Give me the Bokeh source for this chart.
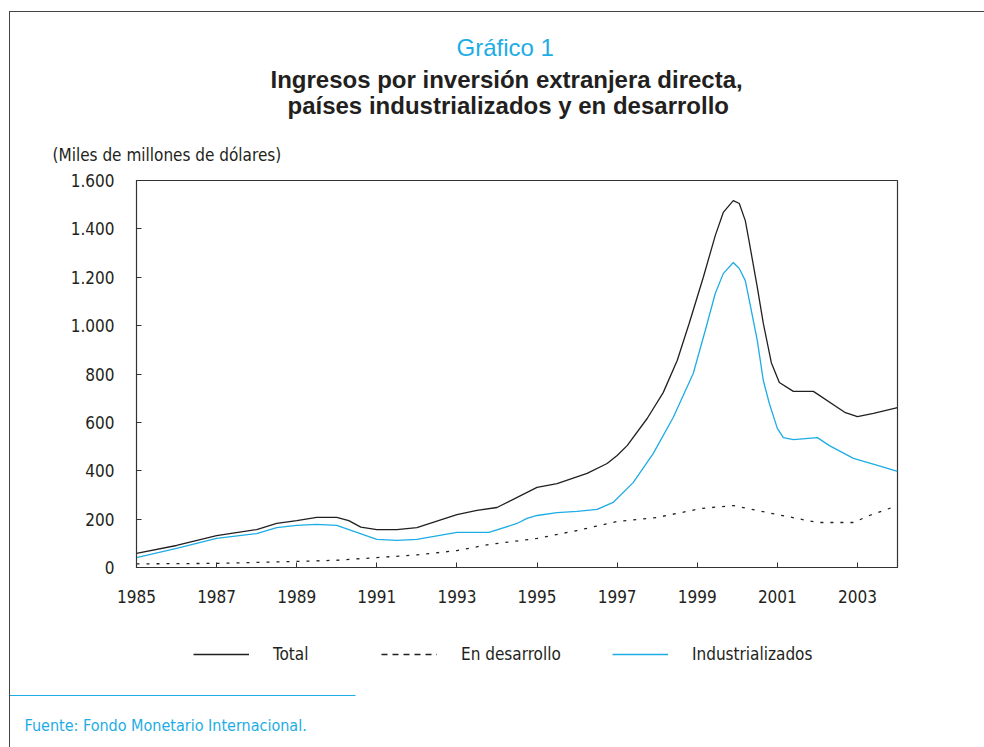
from bokeh.plotting import figure
from bokeh.layouts import column
from bokeh.models import (Range1d, FixedTicker, Title, Legend, LegendItem, Label,
                          BoxAnnotation, InlineStyleSheet)
from bokeh.embed import file_html
from bokeh.resources import INLINE

# ---- data (miles de millones de dólares) ----
total_years = [1985.0, 1986.0, 1987.0, 1988.0, 1988.5, 1989.0, 1989.5, 1990.0, 1990.3, 1990.6,
               1991.0, 1991.5, 1992.0, 1993.0, 1993.5, 1994.0, 1995.0, 1995.5, 1996.25, 1996.75,
               1997.0, 1997.25, 1997.75, 1998.15, 1998.5, 1998.8, 1999.15, 1999.45, 1999.65, 1999.9,
               2000.05, 2000.2, 2000.3, 2000.5, 2000.65, 2000.85, 2001.05, 2001.4, 2001.9, 2002.7,
               2003.0, 2003.4, 2004.0]
total_vals = [58, 91, 132, 157, 182, 194, 207, 207, 194, 167,
              157, 157, 165, 219, 236, 248, 331, 347, 389, 430,
              463, 504, 616, 723, 856, 1010, 1199, 1372, 1468, 1517,
              1505, 1434, 1344, 1158, 1009, 847, 765, 728, 728, 640,
              624, 637, 661]

ind_years = [1985.0, 1986.0, 1987.0, 1988.0, 1988.5, 1989.0, 1989.5, 1990.0, 1991.0, 1991.5,
             1992.0, 1993.0, 1993.8, 1994.5, 1994.75, 1995.0, 1995.5, 1996.0, 1996.5, 1996.9,
             1997.4, 1997.9, 1998.4, 1998.9, 1999.2, 1999.45, 1999.65, 1999.9, 2000.05, 2000.2,
             2000.3, 2000.5, 2000.65, 2000.8, 2001.0, 2001.15, 2001.4, 2002.0, 2002.3, 2002.9,
             2003.5, 2004.0]
ind_vals = [41, 79, 120, 140, 165, 174, 178, 174, 116, 112,
            116, 145, 145, 182, 203, 215, 227, 232, 240, 269,
            351, 471, 620, 802, 980, 1133, 1215, 1261, 1236, 1186,
            1104, 938, 773, 678, 575, 537, 529, 537, 504, 451,
            422, 397]

dev_years = [1985.0, 1987.0, 1989.0, 1990.0, 1991.0, 1992.0, 1993.0, 1993.8, 1995.0, 1996.0,
             1997.0, 1998.0, 1999.1, 1999.9, 2001.0, 2002.0, 2002.9, 2003.3, 2004.0]
dev_vals = [15, 17, 25, 30, 41, 52, 70, 95, 120, 153,
            190, 207, 244, 256, 219, 186, 186, 215, 256]

x_ticks = [1985, 1987, 1989, 1991, 1993, 1995, 1997, 1999, 2001, 2003]
y_ticks = [0, 200, 400, 600, 800, 1000, 1200, 1400, 1600]
y_tick_labels = ["0", "200", "400", "600", "800", "1.000", "1.200", "1.400", "1.600"]

series_names = ["Total", "En desarrollo", "Industrializados"]

# ---- style ----
DARK = "#231F20"
CYAN = "#1DADE4"
COND = "DejaVu Sans Condensed"
SANS = "Liberation Sans"

W = 968
H1, H2 = 620, 120
FL, FT, FR, FB = 136, 180, 897, 567   # frame edges in picture px

css1 = InlineStyleSheet(css="""
:host { position: relative; }
:host::after { content: ""; position: absolute; left: 9px; top: 11px; width: 975px; height: 609px;
  border-left: 1px solid #444; border-top: 1px solid #444; z-index: 10; pointer-events: none; }
""")
css2 = InlineStyleSheet(css="""
:host { position: relative; }
:host::after { content: ""; position: absolute; left: 9px; top: 0px; width: 0px; height: 127px;
  border-left: 1px solid #444; z-index: 10; pointer-events: none; }
""")

p = figure(width=W, height=H1, output_backend="svg", toolbar_location=None,
           x_range=Range1d(1985, 2004), y_range=Range1d(0, 1600),
           min_border_left=FL, min_border_right=W - FR,
           min_border_top=FT, min_border_bottom=H1 - FB,
           stylesheets=[css1])
p.background_fill_color = "white"
p.border_fill_color = "white"
p.outline_line_color = "#333333"
p.outline_line_width = 1.2
p.xgrid.visible = False
p.ygrid.visible = False

for ax in (p.xaxis[0], p.yaxis[0]):
    ax.major_tick_in = 5
    ax.major_tick_out = 0
    ax.minor_tick_line_color = None
    ax.axis_line_color = "#333333"
    ax.major_tick_line_color = "#333333"
    ax.major_label_text_font = COND
    ax.major_label_text_font_size = "17px"
    ax.major_label_text_color = DARK

p.xaxis[0].ticker = FixedTicker(ticks=x_ticks)
p.xaxis[0].major_label_standoff = 22
p.yaxis[0].ticker = FixedTicker(ticks=y_ticks)
p.yaxis[0].major_label_overrides = {t: s for t, s in zip(y_ticks, y_tick_labels)}
p.yaxis[0].major_label_standoff = 22

line_styles = [dict(line_color=DARK, line_dash="solid"),
               dict(line_color=DARK, line_dash="3 7"),
               dict(line_color=CYAN, line_dash="solid")]
series_x = [total_years, dev_years, ind_years]
series_y = [total_vals, dev_vals, ind_vals]
for xs, ys, st in zip(series_x, series_y, line_styles):
    p.line(xs, ys, line_width=1.3, **st)

# titles above (first added = nearest the frame)
p.add_layout(Title(text="(Miles de millones de dólares)", align="left", offset=52 - FL,
                   text_font=COND, text_font_size="17px", text_font_style="normal",
                   text_color=DARK, standoff=32), "above")
p.add_layout(Title(text="países industrializados y en desarrollo", align="left", offset=287 - FL,
                   text_font=SANS, text_font_size="24px", text_font_style="bold",
                   text_color=DARK, standoff=15), "above")
p.add_layout(Title(text="Ingresos por inversión extranjera directa,", align="left", offset=270 - FL,
                   text_font=SANS, text_font_size="24px", text_font_style="bold",
                   text_color=DARK, standoff=-20), "above")
p.add_layout(Title(text="Gráfico 1", align="left", offset=456 - FL,
                   text_font=SANS, text_font_size="24px", text_font_style="normal",
                   text_color=CYAN, standoff=26), "above")

# ---- footer figure: legend and source ----
q = figure(width=W, height=H2, output_backend="svg", toolbar_location=None,
           x_range=Range1d(0, 1), y_range=Range1d(0, 1),
           min_border_left=0, min_border_right=0, min_border_top=0, min_border_bottom=0,
           stylesheets=[css2])
q.axis.visible = False
q.grid.visible = False
q.outline_line_color = None
q.background_fill_color = "white"
q.border_fill_color = "white"

# legend samples: same series drawn in the footer (outside its 0..1 view, so only the legend shows)
legend_x = [193, 381, 612]
leg_dash = ["solid", "6 5", "solid"]
for name, xs, ys, st, dash, lx in zip(series_names, series_x, series_y, line_styles,
                                      leg_dash, legend_x):
    proxy = q.line(xs, ys, line_width=1.3, line_color=st["line_color"], line_dash=dash)
    lg = Legend(items=[LegendItem(label=name, renderers=[proxy])],
                location=(lx, H2 - (646 - H1) - 18), orientation="horizontal",
                glyph_width=56, glyph_height=18, label_height=18, label_standoff=24,
                padding=0, margin=0, spacing=0, border_line_color=None,
                background_fill_alpha=0, label_text_font=COND,
                label_text_font_size="17px", label_text_color=DARK)
    q.add_layout(lg)

q.add_layout(BoxAnnotation(left=9, right=355, top=H2 - (694.4 - H1), bottom=H2 - (695.6 - H1),
                           left_units="screen", right_units="screen",
                           top_units="screen", bottom_units="screen",
                           fill_color=CYAN, fill_alpha=1, line_color=None))
q.add_layout(Label(x=24, y=H2 - (725 - H1), x_units="screen", y_units="screen",
                   text="Fuente: Fondo Monetario Internacional.", text_font=COND,
                   text_font_size="16px", text_color=CYAN, text_baseline="alphabetic"))

open("out.html", "w").write(file_html(column(p, column(q, spacing=0), spacing=0), INLINE))
